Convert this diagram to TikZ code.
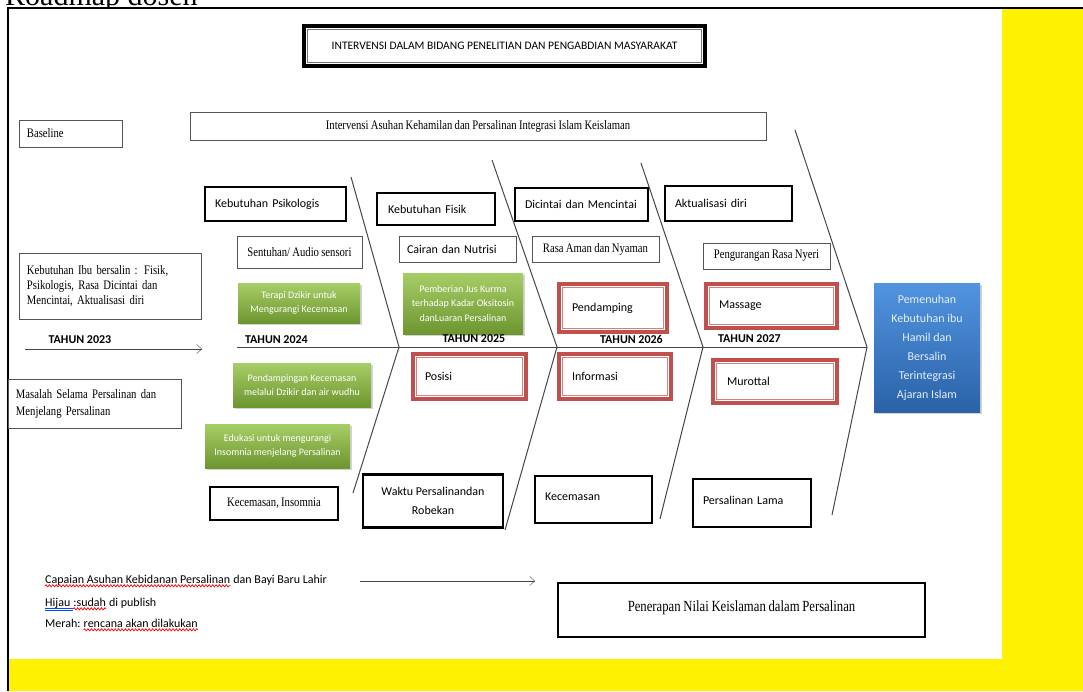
\documentclass[tikz,border=0pt]{standalone}
\usepackage{fontspec}
\setmainfont{Liberation Serif}[FakeStretch=0.82,WordSpace=0.85]
\newfontfamily\headfont{Liberation Serif}
\newfontfamily\calib{Carlito}
\usetikzlibrary{arrows,arrows.meta,positioning,shadows,decorations.pathmorphing}

\definecolor{redbox}{RGB}{192,80,77}
\definecolor{redin}{RGB}{214,128,126}
\definecolor{greentop}{RGB}{166,205,102}
\definecolor{greenbot}{RGB}{110,150,48}
\definecolor{bluetop}{RGB}{82,148,224}
\definecolor{bluebot}{RGB}{42,98,168}
\definecolor{bluetext}{RGB}{228,238,250}
\definecolor{bone}{RGB}{70,70,70}
\definecolor{thinline}{RGB}{85,85,85}

\begin{document}
\begin{tikzpicture}[x=1pt,y=-1pt,>={Straight Barb[length=5pt,width=9pt]},
  every node/.style={inner sep=0pt},
  sz/.style 2 args={minimum width=#1pt,minimum height=#2pt},
  lt/.style 2 args={text width=#1pt,inner xsep=#2pt,align=left},
  thin/.style={draw=thinline,line width=1pt,fill=white,font=\fontsize{13}{15}\selectfont},
  tebal/.style={draw=black,line width=2.8pt,fill=white,font=\calib\fontsize{12}{19}\selectfont},
  dbl/.style={draw=black,line width=3.5pt,fill=white,
    path picture={\draw[black!55,line width=1.2pt]
      ([shift={(3.6pt,-3.6pt)}]path picture bounding box.north west) rectangle
      ([shift={(-3.6pt,3.6pt)}]path picture bounding box.south east);}},
  merah/.style={draw=redbox,line width=3.2pt,fill=white,font=\calib\fontsize{12}{15}\selectfont,
    path picture={\draw[redin,line width=1pt]
      ([shift={(3.4pt,-3.4pt)}]path picture bounding box.north west) rectangle
      ([shift={(-3.4pt,3.4pt)}]path picture bounding box.south east);}},
  hijau/.style={top color=greentop,bottom color=greenbot,text=white,align=center,
    font=\calib\fontsize{10}{14.5}\selectfont,
    drop shadow={shadow xshift=1.5pt,shadow yshift=-2pt,opacity=0.35}},
  biru/.style={top color=bluetop,bottom color=bluebot,text=bluetext,align=center,
    font=\calib\fontsize{12}{19}\selectfont,
    drop shadow={shadow xshift=1.5pt,shadow yshift=-2pt,opacity=0.35}},
  tulang/.style={draw=bone,line width=1pt},
  legenda/.style={anchor=base west,font=\calib\fontsize{12}{14}\selectfont},
  gelombang/.style={draw=red,line width=0.7pt,decorate,decoration={snake,amplitude=1.1pt,segment length=3.4pt}}]
  \tikzstyle{tahun}=[font=\calib\bfseries\fontsize{12}{14}\selectfont]

  \useasboundingbox (0,0) rectangle (1083,691);

  % page, yellow margins and the cut heading
  \fill[yellow] (1002,9) rectangle (1083,691);
  \fill[yellow] (9,659) rectangle (1083,691);
  \begin{scope}
    \clip (0,0) rectangle (1083,8);
    \node[anchor=base west,font=\headfont\fontsize{30}{30}\selectfont] (roadmap) at (5,5) {Roadmap dosen};
  \end{scope}
  \draw[line width=2pt] (8,691) -- (8,8) -- (1083,8);

  % fish bones
  \coordinate (spine_0) at (237,347);
  \coordinate (b1_up) at (351,177);  \coordinate (b1) at (399,347);  \coordinate (b1_dn) at (353,493);
  \coordinate (b2_up) at (492,160);  \coordinate (b2) at (557,347);  \coordinate (b2_dn) at (505,530);
  \coordinate (b3_up) at (641,163);  \coordinate (b3) at (703,347);  \coordinate (b3_dn) at (660,519);
  \coordinate (b4_up) at (795,130);  \coordinate (b4) at (867,347);  \coordinate (b4_dn) at (832,515);
  \draw[tulang] (spine_0) -- (b4);
  \draw[tulang] (b1_up) -- (b1) -- (b1_dn);
  \draw[tulang] (b2_up) -- (b2) -- (b2_dn);
  \draw[tulang] (b3_up) -- (b3) -- (b3_dn);
  \draw[tulang] (b4_up) -- (b4) -- (b4_dn);

  \node[dbl,sz={401}{40},font=\calib\fontsize{11.5}{14}\selectfont] (judul) at (504.5,46)
    {INTERVENSI DALAM BIDANG PENELITIAN DAN PENGABDIAN MASYARAKAT};
  \node[thin,sz={103}{27},lt={87}{8}] (baseline) at (70.5,133.5) {Baseline};
  \node[thin,sz={576}{28}] (intervensi) at (478,126)
    {Intervensi Asuhan Kehamilan dan Persalinan Integrasi Islam Keislaman};

  \node[tebal,sz={141}{34},lt={121}{10}] (k_psi) at (275.5,204) {Kebutuhan Psikologis};
  \node[tebal,sz={118}{32},lt={96}{11}] (k_fisik) at (436,209) {Kebutuhan Fisik};
  \node[tebal,sz={133}{33},lt={113}{10}] (k_cinta) at (581.5,204.5) {Dicintai dan Mencintai};
  \node[tebal,sz={127}{35},lt={107}{10}] (k_aktual) at (728.5,203.5) {Aktualisasi diri};

  \node[thin,sz={125}{32}] (sentuhan) at (299.5,252) {Sentuhan/ Audio sensori};
  \node[thin,sz={117}{26},lt={101}{8},font=\calib\fontsize{12}{15}\selectfont] (cairan) at (457.5,249) {Cairan dan Nutrisi};
  \node[thin,sz={127}{26}] (rasa_aman) at (595.5,249) {Rasa Aman dan Nyaman};
  \node[thin,sz={127}{26}] (nyeri) at (766.5,256) {Pengurangan Rasa Nyeri};

  \node[thin,sz={182}{66},lt={166}{8}] (kebutuhan_ibu) at (110,286)
    {Kebutuhan Ibu bersalin : Fisik,\\ Psikologis, Rasa Dicintai dan\\ Mencintai, Aktualisasi diri};
  \node[thin,sz={173}{49},lt={157}{8},font=\fontsize{13}{17}\selectfont] (masalah) at (94.5,403.5)
    {Masalah Selama Persalinan dan\\ Menjelang Persalinan};

  \node[hijau,sz={122}{40}] (terapi) at (299,303) {Terapi Dzikir untuk\\ Mengurangi Kecemasan};
  \node[hijau,sz={120}{61}] (jus_kurma) at (463,303.5)
    {Pemberian Jus Kurma\\ terhadap Kadar Oksitosin\\ danLuaran Persalinan};
  \node[hijau,sz={138}{44}] (wudhu) at (302,385) {Pendampingan Kecemasan\\ melalui Dzikir dan air wudhu};
  \node[hijau,sz={145}{44}] (edukasi) at (277.5,446) {Edukasi untuk mengurangi\\ Insomnia menjelang Persalinan};

  \node[merah,sz={108}{48},lt={82}{13}] (pendamping) at (613,308) {Pendamping};
  \node[merah,sz={131}{44},lt={105}{13}] (massage) at (771.5,306) {Massage};
  \node[merah,sz={113}{45},lt={89}{12}] (posisi) at (469.5,376.5) {Posisi};
  \node[merah,sz={112}{45},lt={86}{13}] (informasi) at (615,376.5) {Informasi};
  \node[merah,sz={124}{43},lt={96}{14}] (murottal) at (775,381.5) {Murottal};

  \node[biru,sz={106}{129}] (tujuan) at (927,347.5)
    {Pemenuhan\\ Kebutuhan ibu\\ Hamil dan\\ Bersalin\\ Terintegrasi\\ Ajaran Islam};

  \node[tebal,sz={128}{33},font=\fontsize{13}{15}\selectfont] (kec_ins) at (274,503.5) {Kecemasan, Insomnia};
  \node[tebal,sz={140}{53},align=center] (waktu) at (433,501) {Waktu Persalinandan\\ Robekan};
  \node[tebal,sz={117}{47},lt={97}{10}] (kecemasan) at (593.5,499.5) {\raisebox{6.5pt}{Kecemasan}};
  \node[tebal,sz={118}{48},lt={98}{10}] (pers_lama) at (752,503) {\raisebox{6pt}{Persalinan Lama}};

  % years along the spine
  \coordinate (th_a) at (25,349);
  \coordinate (th_b) at (202,349);
  \draw[->,draw=bone] (th_a) -- (th_b);
  \node[tahun] (t_2023) at (80,340) {TAHUN 2023};
  \node[tahun] (t_2024) at (276.5,340) {TAHUN 2024};
  \node[tahun] (t_2025) at (474,339) {TAHUN 2025};
  \node[tahun] (t_2026) at (631.5,339) {TAHUN 2026};
  \node[tahun] (t_2027) at (749.5,339) {TAHUN 2027};

  % legend
  \node[legenda] (capaian) at (45,583) {Capaian Asuhan Kebidanan Persalinan};
  \node[legenda,base right=2.7pt of capaian] (bayi) {dan Bayi Baru Lahir};
  \node[legenda] (hijau_t) at (45,606) {Hijau};
  \node[legenda,base right=2.7pt of hijau_t] (sudah) {:sudah};
  \node[legenda,base right=2.7pt of sudah] (publish) {di publish};
  \node[legenda] (merah_t) at (45,627) {Merah:};
  \node[legenda,base right=2.7pt of merah_t] (rencana) {rencana akan dilakukan};
  \draw[gelombang] ([yshift=-2.8pt]capaian.base west) -- ([yshift=-2.8pt]capaian.base east);
  \draw[gelombang] ([yshift=-2.8pt]sudah.base west) -- ([yshift=-2.8pt]sudah.base east);
  \draw[gelombang] ([yshift=-2.8pt]rencana.base west) -- ([yshift=-2.8pt]rencana.base east);
  \draw[blue!70!cyan,line width=0.6pt] ([yshift=-2.4pt]hijau_t.base west) -- ([yshift=-2.4pt,xshift=2.7pt]hijau_t.base east);
  \draw[blue!70!cyan,line width=0.6pt] ([yshift=-4pt]hijau_t.base west) -- ([yshift=-4pt,xshift=2.7pt]hijau_t.base east);

  \coordinate (cap_a) at (360,581);
  \coordinate (cap_b) at (535,581);
  \draw[->,draw=bone] (cap_a) -- (cap_b);
  \node[draw=black,line width=2pt,fill=white,sz={367}{54},font=\fontsize{15.5}{18}\selectfont] (penerapan)
    at (741.5,610) {\raisebox{8pt}{Penerapan Nilai Keislaman dalam Persalinan}};
\end{tikzpicture}
\end{document}
